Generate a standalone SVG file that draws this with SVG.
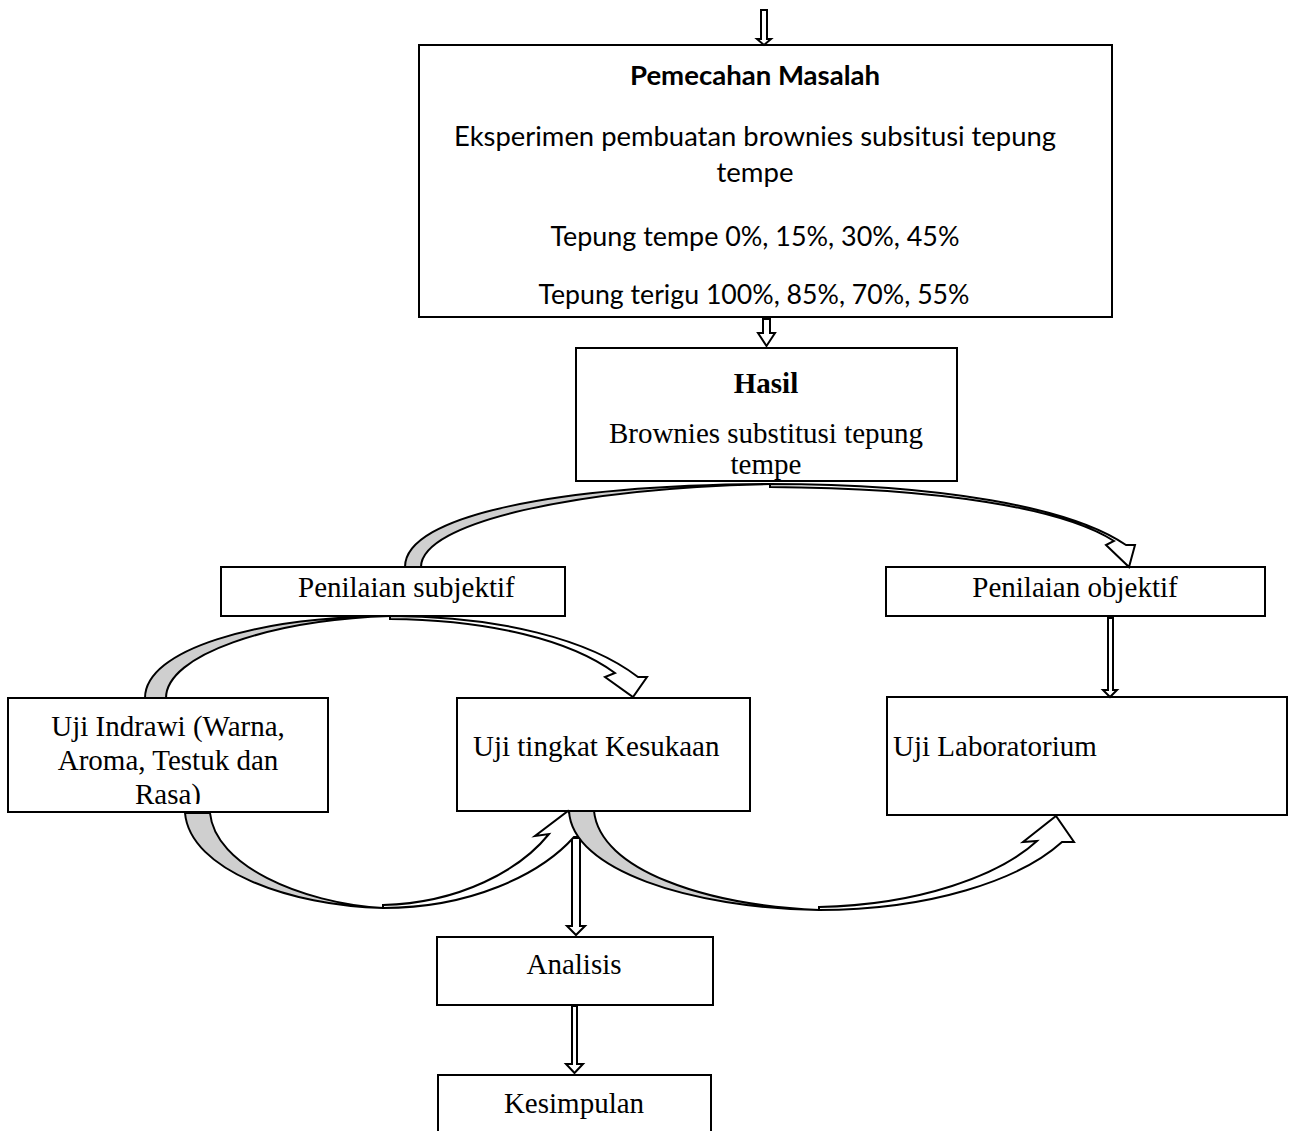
<svg xmlns="http://www.w3.org/2000/svg" width="1289" height="1131" viewBox="0 0 1289 1131">
<style>
.box{fill:#fff;stroke:#000;stroke-width:2}
.t{font-family:"Liberation Serif","Times New Roman",serif;font-size:29px;fill:#000}
.c{font-family:Lato,"Liberation Sans",sans-serif;font-size:27px;fill:#000}
.arr{fill:#fff;stroke:#000;stroke-width:2;stroke-linejoin:miter}
.gray{fill:#cfcfcf;stroke:#000;stroke-width:2;stroke-linejoin:round}
.band{fill:#fff;stroke:#000;stroke-width:2;stroke-linejoin:miter}
</style>
<defs>
<clipPath id="clipIndrawi"><rect x="8" y="698" width="320" height="106"/></clipPath>
</defs>
<rect width="1289" height="1131" fill="#fff"/>

<g id="pemecahan">
<rect class="box" x="419" y="45" width="693" height="272"/>
<text class="c" x="755" y="85" text-anchor="middle" font-weight="bold" textLength="250" lengthAdjust="spacingAndGlyphs">Pemecahan Masalah</text>
<text class="c" x="755" y="146" text-anchor="middle" textLength="602" lengthAdjust="spacingAndGlyphs">Eksperimen pembuatan brownies subsitusi tepung</text>
<text class="c" x="755" y="182" text-anchor="middle" textLength="77" lengthAdjust="spacingAndGlyphs">tempe</text>
<text class="c" x="755" y="246" text-anchor="middle" textLength="409" lengthAdjust="spacingAndGlyphs">Tepung tempe 0%, 15%, 30%, 45%</text>
<text class="c" x="754" y="304" text-anchor="middle" textLength="431" lengthAdjust="spacingAndGlyphs">Tepung terigu 100%, 85%, 70%, 55%</text>
</g>

<g id="hasil">
<rect class="box" x="576" y="348" width="381" height="133"/>
<text class="t" x="766" y="393" text-anchor="middle" font-weight="bold">Hasil</text>
<text class="t" x="766" y="443" text-anchor="middle">Brownies substitusi tepung</text>
<text class="t" x="766" y="474" text-anchor="middle">tempe</text>
</g>

<g id="subjektif">
<rect class="box" x="221" y="567" width="344" height="49"/>
<text class="t" x="298" y="597">Penilaian subjektif</text>
</g>

<g id="objektif">
<rect class="box" x="886" y="567" width="379" height="49"/>
<text class="t" x="1075" y="597" text-anchor="middle">Penilaian objektif</text>
</g>

<g id="indrawi">
<rect class="box" x="8" y="698" width="320" height="114"/>
<g clip-path="url(#clipIndrawi)">
<text class="t" x="168" y="736" text-anchor="middle">Uji Indrawi (Warna,</text>
<text class="t" x="168" y="770" text-anchor="middle">Aroma, Testuk dan</text>
<text class="t" x="168" y="804" text-anchor="middle">Rasa)</text>
</g>
</g>

<g id="kesukaan">
<rect class="box" x="457" y="698" width="293" height="113"/>
<text class="t" x="473" y="756">Uji tingkat Kesukaan</text>
</g>

<g id="laboratorium">
<rect class="box" x="887" y="697" width="400" height="118"/>
<text class="t" x="893" y="756">Uji Laboratorium</text>
</g>

<g id="analisis">
<rect class="box" x="437" y="937" width="276" height="68"/>
<text class="t" x="574" y="974" text-anchor="middle">Analisis</text>
</g>

<g id="kesimpulan">
<rect class="box" x="438" y="1075" width="273" height="70"/>
<text class="t" x="574" y="1113" text-anchor="middle">Kesimpulan</text>
</g>

<g id="connectors">
<path class="arr" d="M761,10 L767,10 L767,39 L771,39 L764,45 L757,39 L761,39 Z"/>
<path class="arr" d="M763,319 L770,319 L770,333 L775,333 L766.5,346 L758,333 L763,333 Z"/>
<path class="arr" d="M1108,618 L1113,618 L1113,690 L1117,690 L1110,697 L1103,690 L1108,690 Z"/>
<path class="arr" d="M572,838 L580,838 L580,926 L585,926 L576,935 L567,926 L572,926 Z"/>
<path class="arr" d="M572,1006 L577,1006 L577,1064 L583,1064 L574.5,1073 L566,1064 L572,1064 Z"/>

<path class="band" d="M770,484 C940,484 1070,507 1126,545 L1135,545 L1129,567 L1106,545 L1114,541 C1062,508 940,488 770,487 Z"/>
<path class="gray" d="M405,567 C405,515 560,485 770,484 C578,488 421,522 421,567 Z"/>

<path class="band" d="M390,616 C500,616 590,640 638,677 L647,677 L633,697 L605,677 L615,673 C570,640 490,620 390,619 Z"/>
<path class="gray" d="M145,698 C145,650 255,617 390,616 C270,620 166,655 166,698 Z"/>

<path class="band" d="M383,908 C470,908 540,875 574,837 L586,837 L568,811 L535,836 L549,834 C520,870 460,903 383,905 Z"/>
<path class="gray" d="M185,813 C190,870 290,906 383,908 C300,903 215,865 210,813 Z"/>

<path class="band" d="M819,910 C930,910 1020,880 1062,842 L1074,842 L1056,816 L1023,842 L1037,841 C1000,875 920,905 819,907 Z"/>
<path class="gray" d="M569,811 C572,870 690,908 819,910 C705,905 600,870 594,811 Z"/>
</g>
</svg>
